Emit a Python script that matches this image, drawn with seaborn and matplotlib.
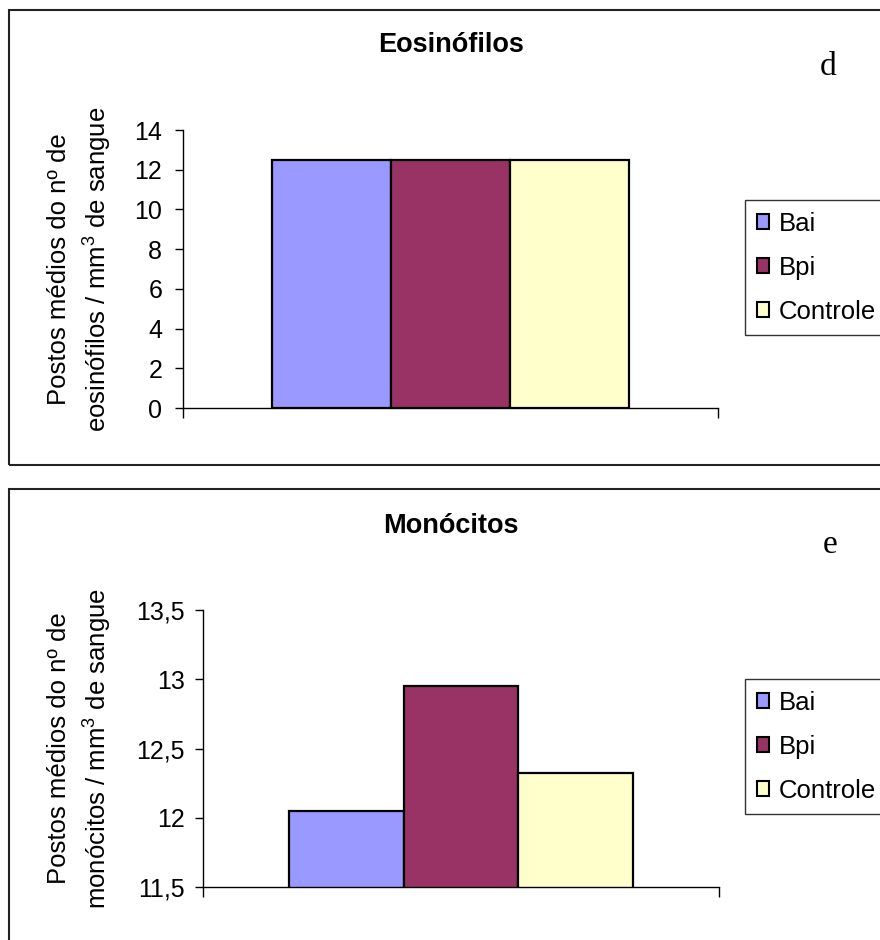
import matplotlib
matplotlib.use('Agg')
import matplotlib.pyplot as plt
import seaborn as sns
from matplotlib.patches import Rectangle, Patch
from matplotlib.ticker import FuncFormatter

# data
groups = ['Bai', 'Bpi', 'Controle']
colors = ['#9999FF', '#993366', '#FFFFCC']
eos_values = [12.5, 12.5, 12.5]
mono_values = [12.05, 12.95, 12.32]
eos_ticks = [0, 2, 4, 6, 8, 10, 12, 14]
mono_ticks = [11.5, 12, 12.5, 13, 13.5]

W, H = 880, 940

sns.set_style('white')
plt.rcParams['font.family'] = ['Liberation Sans', 'DejaVu Sans']
plt.rcParams['mathtext.fontset'] = 'custom'
plt.rcParams['mathtext.rm'] = 'Liberation Sans'
plt.rcParams['text.color'] = 'black'
plt.rcParams['axes.labelcolor'] = 'black'
plt.rcParams['xtick.color'] = 'black'
plt.rcParams['ytick.color'] = 'black'

fig = plt.figure(figsize=(W / 100, H / 100), dpi=100)


def px(x, y):
    # pixel coords (top-left origin) -> figure fraction
    return x / W, 1 - y / H


def comma(v, pos):
    return f'{v:g}'.replace('.', ',')


def draw_panel(rect, values, ticks, ylim, ylabel2, ybox, pad):
    left, top, right, bottom = rect
    x0, y0 = px(left, bottom)
    ax = fig.add_axes([x0, y0, (right - left) / W, (bottom - top) / H])
    df = {'grupo': groups, 'valor': values}
    sns.barplot(data=df, x='grupo', y='valor', hue='grupo', palette=colors,
                saturation=1, width=1.0, edgecolor='black', linewidth=1.6,
                legend=False, ax=ax)
    ax.set_ylim(*ylim)
    ax.set_xlim(-1.25, 3.25)
    ax.set_yticks(ticks)
    ax.yaxis.set_major_formatter(FuncFormatter(comma))
    ax.set_xticks([-1.25, 3.25])
    ax.set_xticklabels(['', ''])
    ax.set_xlabel('')
    ax.set_ylabel('')
    for side in ['top', 'right']:
        ax.spines[side].set_visible(False)
    for side in ['left', 'bottom']:
        ax.spines[side].set_color('black')
        ax.spines[side].set_linewidth(1.0)
    ax.tick_params(axis='y', direction='out', length=6, width=1, left=True,
                   labelsize=18, pad=pad)
    ax.tick_params(axis='x', direction='out', length=7.5, width=1, bottom=True)

    # y label, two lines
    cy = (top + bottom) / 2
    fig.text(*px(59, cy), 'Postos médios do nº de', rotation=90,
             ha='center', va='center', fontsize=18.5)
    fig.text(*px(97, cy), ylabel2, rotation=90,
             ha='center', va='center', fontsize=18.5)

    handles = [Patch(facecolor=c, edgecolor='black', linewidth=1.5) for c in colors]
    fig.legend(handles, groups, loc='upper left', bbox_to_anchor=px(745, ybox),
               borderaxespad=0, frameon=True, fancybox=False, edgecolor='black',
               fontsize=18.5, handlelength=0.5, handleheight=0.5,
               handletextpad=0.35, labelspacing=0.78, borderpad=0.45)
    return ax


def panel_box(y_top, y_bot):
    x0, y0 = px(9, y_bot)
    fig.patches.append(Rectangle((x0, y0), 1.0, (y_bot - y_top) / H,
                                 transform=fig.transFigure, fill=False,
                                 edgecolor='#222222', linewidth=1.5))


# panel d: Eosinofilos
panel_box(10, 465)
draw_panel((183, 130, 718, 408), eos_values, eos_ticks, (0, 14),
           'eosinófilos / mm$^3$ de sangue', 200, 9)
fig.text(*px(451, 52), 'Eosinófilos', ha='center', va='baseline',
         fontsize=19.5, fontweight='bold')
fig.text(*px(828, 75), 'd', ha='center', va='baseline', fontsize=24,
         family='Liberation Serif')

# panel e: Monocitos
panel_box(489, 960)
draw_panel((203, 610, 719, 887), mono_values, mono_ticks, (11.5, 13.5),
           'monócitos / mm$^3$ de sangue', 679, 7)
fig.text(*px(451, 533), 'Monócitos', ha='center', va='baseline',
         fontsize=19.5, fontweight='bold')
fig.text(*px(830, 553), 'e', ha='center', va='baseline', fontsize=24,
         family='Liberation Serif')

fig.savefig('out.png', dpi=100)
